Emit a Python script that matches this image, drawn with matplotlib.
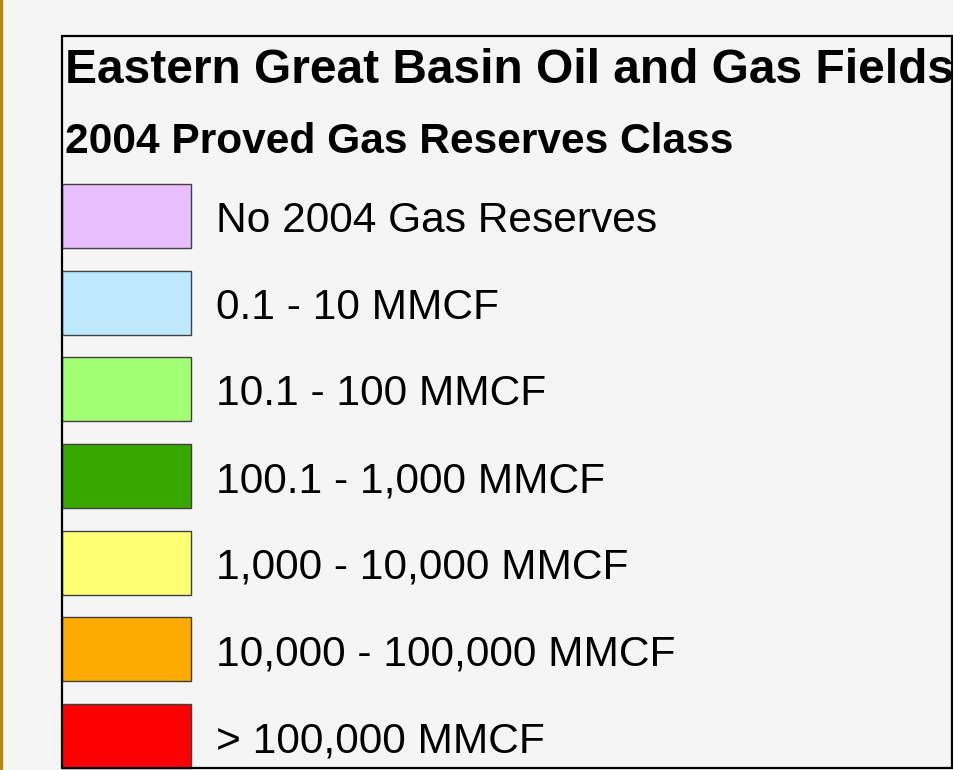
import matplotlib.pyplot as plt
from matplotlib.patches import Rectangle

title = "Eastern Great Basin Oil and Gas Fields"
subtitle = "2004 Proved Gas Reserves Class"
classes = [
    "No 2004 Gas Reserves",
    "0.1 - 10 MMCF",
    "10.1 - 100 MMCF",
    "100.1 - 1,000 MMCF",
    "1,000 - 10,000 MMCF",
    "10,000 - 100,000 MMCF",
    "> 100,000 MMCF",
]
class_colors = ["#E8BEFF", "#BEE8FF", "#A3FF73", "#38A800", "#FFFF73", "#FFAA00", "#FF0000"]

plt.rcParams['font.family'] = ['Liberation Sans', 'DejaVu Sans']

W, H = 954, 770
fig = plt.figure(figsize=(W / 100, H / 100), dpi=100, facecolor="#f5f5f5")
ax = fig.add_axes([0, 0, 1, 1])
ax.set_xlim(0, W)
ax.set_ylim(H, 0)
ax.axis("off")
ax.set_facecolor("#f5f5f5")

# gold edge on the far left
ax.axvline(1.2, color="#b8860b", lw=2.4)

# legend frame
ax.add_patch(Rectangle((62.5, 36), 889.5, 732, fill=False, ec="black", lw=1.6, zorder=5))

ax.text(65, 83, title, fontsize=34.5, fontweight="bold", va="baseline", ha="left")
ax.text(65, 153, subtitle, fontsize=30.6, fontweight="bold", va="baseline", ha="left")

# swatches
step = 86.67
ys = [216 + i * step for i in range(len(classes))]
ax.barh(ys, [128.5] * len(classes), height=64, left=62.5, color=class_colors,
        edgecolor="#404040", linewidth=1.0, zorder=3)
for y, lab in zip(ys, classes):
    ax.text(216, y + 16, lab, fontsize=30.6, va="baseline", ha="left")

fig.savefig("out.png", dpi=100, facecolor=fig.get_facecolor())
